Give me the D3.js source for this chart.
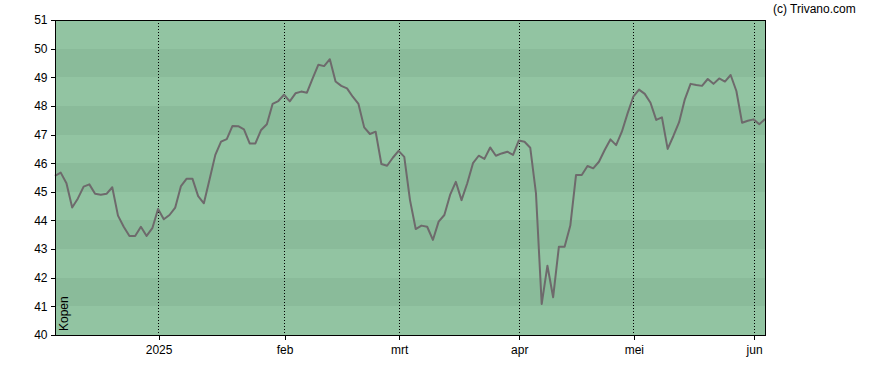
<!DOCTYPE html>
<html>
<head>
<meta charset="utf-8">
<script src="https://cdn.jsdelivr.net/npm/d3@7"></script>
<style>
  html, body { margin: 0; padding: 0; background: #fff; }
  svg { display: block; }
  text { font-family: Arial, "Liberation Sans", sans-serif; }
</style>
</head>
<body>
<svg id="chart" width="888" height="370"></svg>
<script>
// Closing prices per trading day (4 Dec 2024 .. 4 Jun 2025)
const values = [
  45.56, 45.67, 45.30, 44.45, 44.77, 45.18, 45.26, 44.93, 44.90, 44.93,
  45.16, 44.17, 43.78, 43.46, 43.46, 43.78, 43.46, 43.73, 44.40, 44.04,
  44.19, 44.45, 45.20, 45.46, 45.46, 44.85, 44.60, 45.44, 46.29, 46.75,
  46.84, 47.30, 47.29, 47.18, 46.69, 46.69, 47.16, 47.36, 48.07, 48.17,
  48.39, 48.16, 48.44, 48.50, 48.46, 48.96, 49.44, 49.39, 49.63, 48.85,
  48.70, 48.61, 48.32, 48.07, 47.25, 47.02, 47.10, 45.97, 45.91, 46.19,
  46.43, 46.22, 44.71, 43.70, 43.82, 43.78, 43.32, 43.96, 44.19, 44.89,
  45.35, 44.71, 45.30, 46.00, 46.26, 46.15, 46.55, 46.26, 46.34, 46.40,
  46.29, 46.79, 46.75, 46.54, 44.95, 41.08, 42.42, 41.32, 43.08, 43.08,
  43.82, 45.59, 45.59, 45.90, 45.82, 46.05, 46.46, 46.83, 46.63, 47.10,
  47.74, 48.32, 48.57, 48.42, 48.11, 47.51, 47.60, 46.50, 46.95, 47.43,
  48.23, 48.77, 48.73, 48.70, 48.94, 48.77, 48.96, 48.85, 49.08, 48.52,
  47.41, 47.48, 47.53, 47.36, 47.54
];
// Month ticks: label and trading-day index of first trading day of month
const tickLabels = ["2025", "feb", "mrt", "apr", "mei", "jun"];
const tickIndex = [18, 40, 60, 81, 101, 122];
const yTicks = [40, 41, 42, 43, 44, 45, 46, 47, 48, 49, 50, 51];

const svg = d3.select("#chart");
const L = 55, T = 20, R = 765, B = 335;

const x = d3.scaleLinear().domain([0, values.length - 1]).range([L, R]);
const y = d3.scaleLinear().domain([40, 51]).range([B, T]);

// bands
const bands = d3.range(40, 51);
svg.append("g").attr("shape-rendering", "crispEdges")
  .selectAll("rect").data(bands).join("rect")
  .attr("x", L).attr("width", R - L)
  .attr("y", d => Math.round(y(d + 1)))
  .attr("height", d => Math.round(y(d)) - Math.round(y(d + 1)))
  .attr("fill", d => ((d - 40) % 2 === 0) ? "#92c4a2" : "#8abb9a");

// vertical dotted grid lines
svg.append("g").attr("shape-rendering", "crispEdges")
  .selectAll("line").data(tickIndex).join("line")
  .attr("x1", d => Math.round(x(d)) + 0.5).attr("x2", d => Math.round(x(d)) + 0.5)
  .attr("y1", T).attr("y2", B)
  .attr("stroke", "#000").attr("stroke-width", 1)
  .attr("stroke-dasharray", "1,2");

// line
const line = d3.line().x((d, i) => x(i)).y(d => y(d));
svg.append("path").datum(values)
  .attr("d", line)
  .attr("fill", "none")
  .attr("stroke", "#6e6a6c")
  .attr("stroke-width", 2)
  .attr("stroke-linejoin", "round");

// border
svg.append("rect")
  .attr("shape-rendering", "crispEdges")
  .attr("x", L + 0.5).attr("y", T + 0.5)
  .attr("width", R - L).attr("height", B - T)
  .attr("fill", "none").attr("stroke", "#000").attr("stroke-width", 1);

// y axis
const yAxis = svg.append("g").attr("transform", `translate(${L + 0.5},0)`)
  .call(d3.axisLeft(y).tickValues(yTicks).tickFormat(d3.format("d")).tickSize(5).tickPadding(3));
yAxis.select(".domain").remove();
yAxis.selectAll("text").attr("font-size", 12).attr("fill", "#000").style("font-family", "Arial, 'Liberation Sans', sans-serif");
yAxis.selectAll("line").attr("stroke", "#000").attr("shape-rendering", "crispEdges");

// x axis
const xAxis = svg.append("g").attr("transform", `translate(0.5,${B + 0.5})`)
  .call(d3.axisBottom(x).tickValues(tickIndex).tickFormat((d, i) => tickLabels[i]).tickSize(4).tickPadding(6));
xAxis.select(".domain").remove();
xAxis.selectAll("text").attr("font-size", 12).attr("fill", "#000").style("font-family", "Arial, 'Liberation Sans', sans-serif");
xAxis.selectAll("line").attr("stroke", "#000").attr("shape-rendering", "crispEdges");

// Kopen label
svg.append("text")
  .attr("transform", `translate(68,331) rotate(-90)`)
  .attr("font-size", 12).attr("fill", "#000")
  .text("Kopen");

// copyright
svg.append("text")
  .attr("x", 773).attr("y", 13)
  .attr("font-size", 12).attr("fill", "#000")
  .text("(c) Trivano.com");
</script>
</body>
</html>
